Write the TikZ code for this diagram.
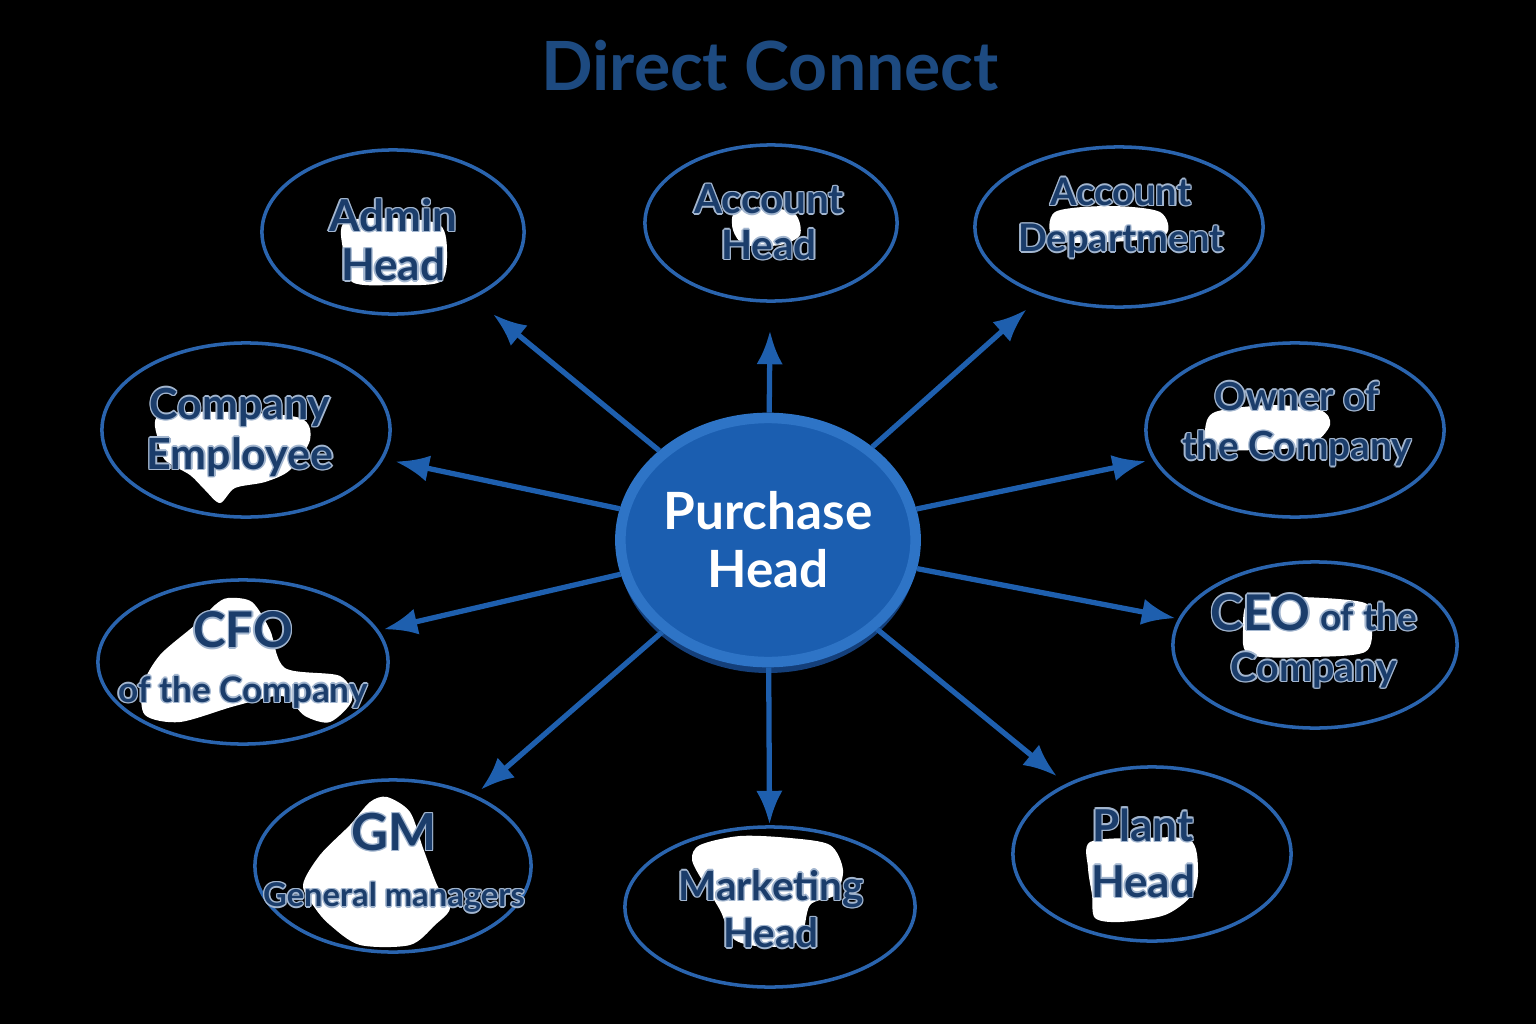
\documentclass[tikz,border=0pt]{standalone}
\usepackage{fontspec}
\setmainfont{Lato}
\usetikzlibrary{shapes.geometric}
\usetikzlibrary{arrows.meta}

\definecolor{navy}{HTML}{1B3D6B}
\definecolor{titleblue}{HTML}{1D4A80}
\definecolor{rimblue}{HTML}{2A64AE}
\definecolor{arrowblue}{HTML}{1E5FAE}
\definecolor{hubfill}{HTML}{1B5EB0}
\definecolor{hubring}{HTML}{2E74C6}
\definecolor{hubshadow}{HTML}{143F7A}
\definecolor{glow}{HTML}{A3B6CF}

\tikzset{
  outer/.style={ellipse, draw=rimblue, line width=1pt, fill=black, inner sep=0pt},
  lbl/.style={text=navy, align=center, inner sep=0pt, font=\bfseries\fontsize{12.5}{14}\selectfont},
  arr/.style={-{Latex[length=9.5pt,width=7.5pt]}, line width=1.5pt, draw=arrowblue},
  blob/.style={fill=white},
}

% label with a thin light edge round the letters
\newcommand\glowlabel[4][]{%
  \foreach \dx/\dy in {0.4/0,-0.4/0,0/0.4,0/-0.4,0.3/0.3,-0.3/0.3,0.3/-0.3,-0.3/-0.3}
    \node[lbl,#1,text=glow] at ([shift={(\dx pt,\dy pt)}]#3) {#4};
  \node[lbl,#1] (#2) at (#3) {#4};
}

\begin{document}
\begin{tikzpicture}[x=0.01cm, y=-0.01cm]
    % background
    \fill[black] (0,0) rectangle (1536,1024);
    \useasboundingbox (0,0) rectangle (1536,1024);

    % title
    \node[text=titleblue, font=\bfseries\fontsize{19.3}{23}\selectfont] (title) at (770,66) {Direct Connect};

    % the hub
    \fill[hubshadow] (768,547) ellipse (150 and 126);
    \node[ellipse, fill=hubfill, draw=hubring, line width=3pt, inner sep=0pt, minimum width=2.92cm, minimum height=2.44cm,
          text=white, align=center, font=\bfseries\fontsize{14.6}{16.5}\selectfont] (purchase) at (768,540) {Purchase\\Head};

    % the ten contacts
    \node[outer, minimum width=2.62cm, minimum height=1.64cm] (admin) at (393,232) {};
    \node[outer, minimum width=2.52cm, minimum height=1.56cm] (acchead) at (771,223) {};
    \node[outer, minimum width=2.88cm, minimum height=1.60cm] (accdept) at (1119,227) {};
    \node[outer, minimum width=2.88cm, minimum height=1.74cm] (employee) at (246,430) {};
    \node[outer, minimum width=2.98cm, minimum height=1.74cm] (owner) at (1295,430) {};
    \node[outer, minimum width=2.90cm, minimum height=1.64cm] (cfo) at (243,662) {};
    \node[outer, minimum width=2.84cm, minimum height=1.66cm] (ceo) at (1315,645) {};
    \node[outer, minimum width=2.76cm, minimum height=1.72cm] (gm) at (393,866) {};
    \node[outer, minimum width=2.90cm, minimum height=1.60cm] (marketing) at (770,907) {};
    \node[outer, minimum width=2.78cm, minimum height=1.74cm] (plant) at (1152,854) {};

    % white patches behind the labels
    \fill[blob] plot[smooth cycle] coordinates {(345,222) (395,218) (440,225) (447,255) (440,282) (395,285) (352,282) (343,250)};
    \fill[blob] plot[smooth cycle] coordinates {(735,212) (765,207) (795,214) (800,235) (780,245) (745,245) (733,230)};
    \fill[blob] plot[smooth cycle] coordinates {(1055,212) (1110,206) (1160,212) (1165,235) (1110,242) (1055,240)};
    \fill[blob] plot[smooth cycle] coordinates {(160,415) (230,412) (300,418) (310,440) (290,470) (265,482) (235,488) (220,503) (205,490) (190,475) (165,460) (158,440)};
    \fill[blob] plot[smooth cycle] coordinates {(1215,412) (1270,405) (1320,410) (1330,425) (1310,445) (1260,450) (1210,448) (1205,430)};
    \fill[blob] plot[smooth cycle] coordinates {(1250,600) (1300,597) (1365,603) (1372,625) (1365,652) (1310,657) (1250,655) (1243,630)};
    \fill[blob] plot[smooth cycle] coordinates {(228,598) (252,602) (270,630) (285,668) (340,676) (352,700) (330,722) (305,716) (282,696) (235,706) (180,722) (145,715) (143,685) (160,655) (195,625) (215,605)};
    \fill[blob] plot[smooth cycle] coordinates {(387,797) (410,812) (423,848) (437,885) (450,908) (435,925) (410,945) (360,945) (330,925) (315,908) (303,885) (320,855) (350,825) (370,802)};
    \fill[blob] plot[smooth cycle] coordinates {(700,845) (740,836) (790,838) (830,845) (843,870) (835,895) (810,905) (800,940) (770,947) (735,940) (720,910) (705,885) (692,860)};
    \fill[blob] plot[smooth cycle] coordinates {(1090,842) (1140,838) (1190,840) (1198,870) (1192,895) (1165,915) (1120,922) (1095,918) (1092,895) (1088,868)};

    % labels
    \glowlabel{admin-txt}{393,240}{Admin\\Head}
    \glowlabel[font=\bfseries\fontsize{11.5}{13}\selectfont]{acchead-txt}{769,222}{Account\\Head}
    \glowlabel[font=\bfseries\fontsize{10.8}{13.2}\selectfont]{accdept-txt}{1121,218}{Account\\Department}
    \glowlabel[font=\bfseries\fontsize{12.2}{14.2}\selectfont]{employee-txt}{240,432}{Company\\Employee}
    \glowlabel[font=\bfseries\fontsize{11}{14}\selectfont]{owner-txt}{1297,424}{Owner of\\the Company}
    \glowlabel[font=\bfseries\fontsize{11.2}{14.5}\selectfont]{ceo-txt}{1314,641}{{\fontsize{14}{14}\selectfont CEO} {\fontsize{10.5}{10.5}\selectfont of the}\\Company}
    \glowlabel[font=\bfseries\fontsize{10}{15.5}\selectfont]{cfo-txt}{243,660}{{\fontsize{14}{14}\selectfont CFO}\\of the Company}
    \glowlabel[font=\bfseries\fontsize{9.3}{16}\selectfont]{gm-txt}{394,863}{{\fontsize{14.5}{14.5}\selectfont GM}\\General managers}
    \glowlabel[font=\bfseries\fontsize{11.5}{13.5}\selectfont]{marketing-txt}{771,909}{Marketing\\Head}
    \glowlabel[font=\bfseries\fontsize{12.5}{16}\selectfont]{plant-txt}{1143,853}{Plant\\Head}

    % arrows out of the hub
    \draw[arr, shorten >=0.25cm] (purchase) -- (admin);
    \draw[arr, shorten >=0.28cm] (purchase) -- (acchead);
    \draw[arr, shorten >=0.2cm] (purchase) -- (accdept);
    \draw[arr, shorten >=0.12cm] (purchase) -- (employee);
    \draw[arr, shorten >=0.07cm] (purchase) -- (owner);
    \draw[arr, shorten >=0.05cm] (purchase) -- (cfo);
    \draw[arr, shorten >=0.03cm] (purchase) -- (ceo);
    \draw[arr, shorten >=0.08cm] (purchase) -- (gm);
    \draw[arr, shorten >=0.01cm] (purchase) -- (marketing);
    \draw[arr, shorten >=0.12cm] (purchase) -- (plant);
\end{tikzpicture}
\end{document}
